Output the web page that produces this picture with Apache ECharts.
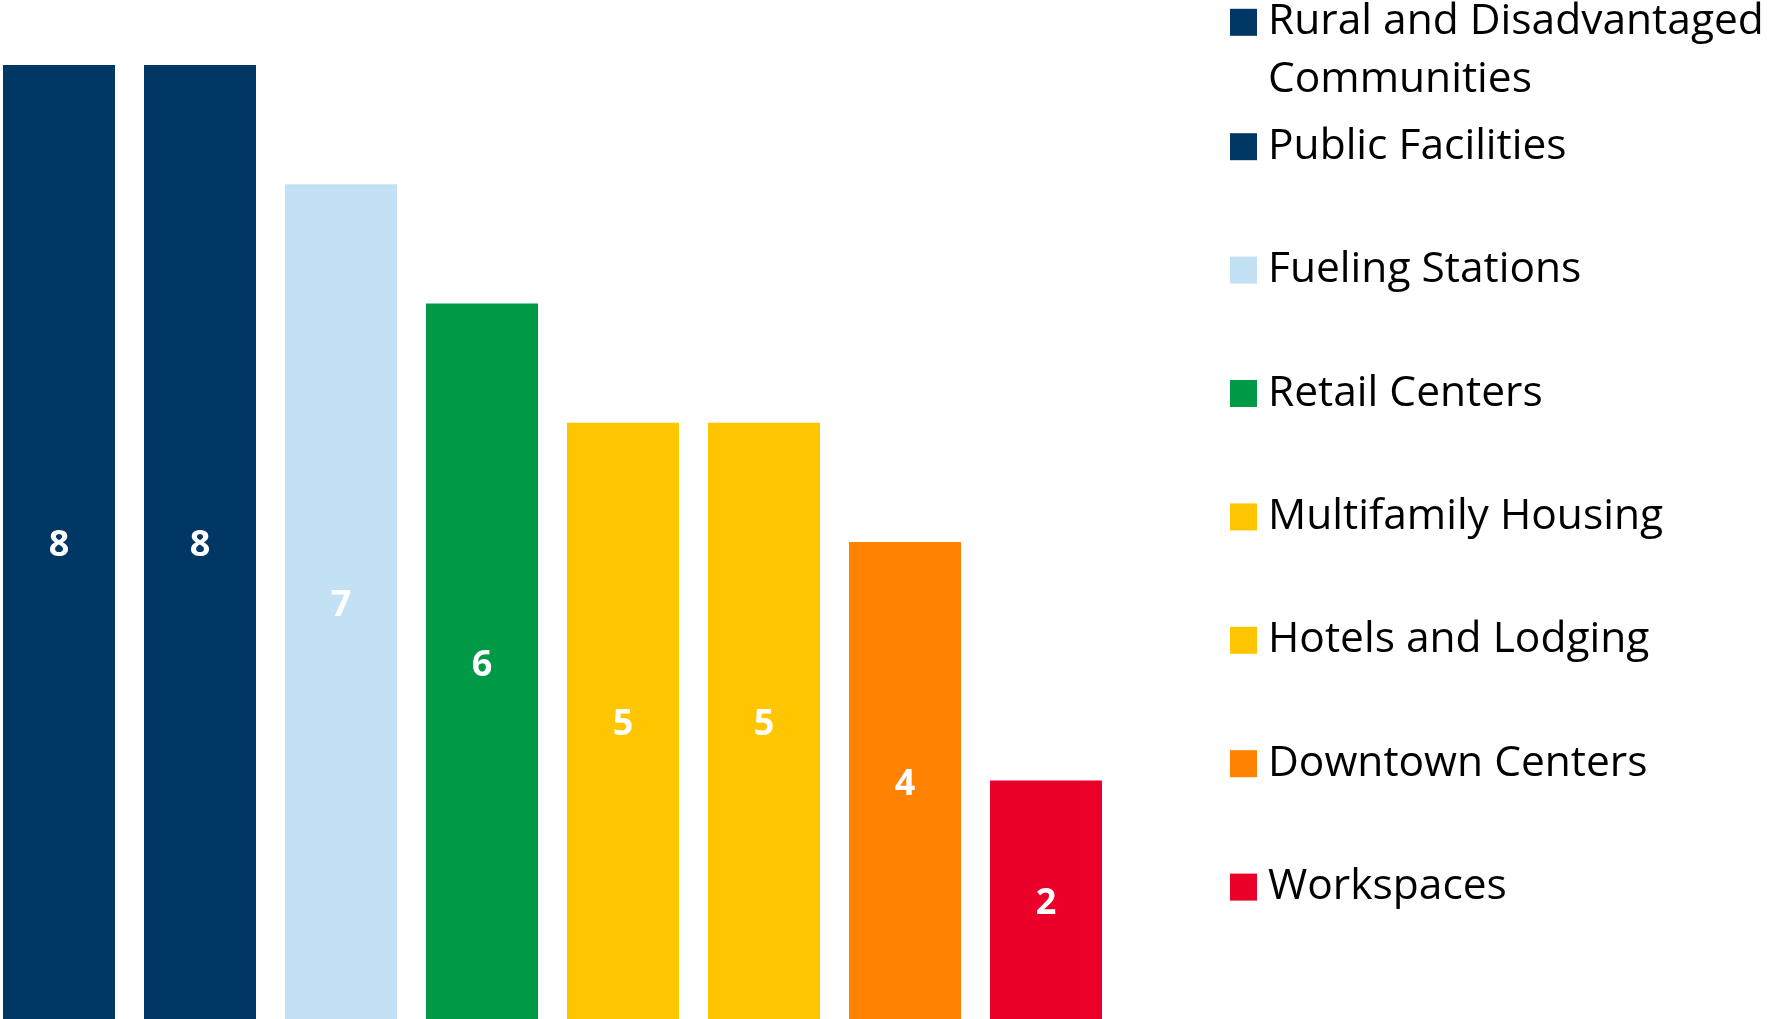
<!DOCTYPE html>
<html>
<head>
<meta charset="utf-8">
<script src="https://cdn.jsdelivr.net/npm/echarts@6/dist/echarts.min.js"></script>
<style>
  html, body { margin: 0; padding: 0; background: #fff; }
  #chart { width: 1767px; height: 1019px; }
</style>
</head>
<body>
<div id="chart"></div>
<script>
// categories and counts
var categories = [
  'Rural and Disadvantaged Communities',
  'Public Facilities',
  'Fueling Stations',
  'Retail Centers',
  'Multifamily Housing',
  'Hotels and Lodging',
  'Downtown Centers',
  'Workspaces'
]
var counts = [8, 8, 7, 6, 5, 5, 4, 2]
var palette = ['#003764', '#003764', '#c2e1f4', '#009a46', '#ffc600', '#ffc600', '#ff8200', '#ea0029']

var myChart = echarts.init(document.getElementById('chart'))

var series = categories.map(function (name, i) {
  var d = categories.map(function (c, j) { return j === i ? counts[i] : '-' })
  return {
    name: name,
    type: 'bar',
    stack: 'all',
    barWidth: 112,
    data: d,
    itemStyle: { color: palette[i] },
    label: {
      show: true,
      position: 'inside',
      offset: [0, 4],
      color: '#fff',
      fontFamily: 'Open Sans',
      fontWeight: 'bold',
      fontSize: 36
    }
  }
})

// one legend per item so they can be spaced like the original
// first one has a blank leading line so the square sits on the first text line
var legends = categories.map(function (name, i) {
  var first = i === 0
  var centerY = 22.3 + i * 123.4
  return {
    orient: 'vertical',
    left: 1230,
    top: first ? centerY - 13.5 - 73.5 : centerY - 13.5 - 7,
    padding: 0,
    itemWidth: 27,
    itemHeight: 27,
    icon: 'rect',
    selectedMode: false,
    data: [name],
    formatter: function (n) {
      return first ? ' \n' + n.replace(' Communities', '\nCommunities') : n
    },
    textStyle: {
      color: '#000',
      fontFamily: 'Open Sans',
      fontSize: 42.5,
      lineHeight: first ? 58 : 27,
      padding: [0, 0, 0, 6]
    }
  }
})

var options = {
  animation: false,
  grid: { left: -11.5, right: 650.5, top: 65, bottom: 0, containLabel: false, outerBoundsMode: 'none' },
  legend: legends,
  xAxis: {
    type: 'category',
    data: categories,
    axisLine: { show: false },
    axisTick: { show: false },
    axisLabel: { show: false }
  },
  yAxis: {
    type: 'value',
    min: 0,
    max: 8,
    show: false,
    splitLine: { show: false }
  },
  series: series
}
myChart.setOption(options)
</script>
</body>
</html>
